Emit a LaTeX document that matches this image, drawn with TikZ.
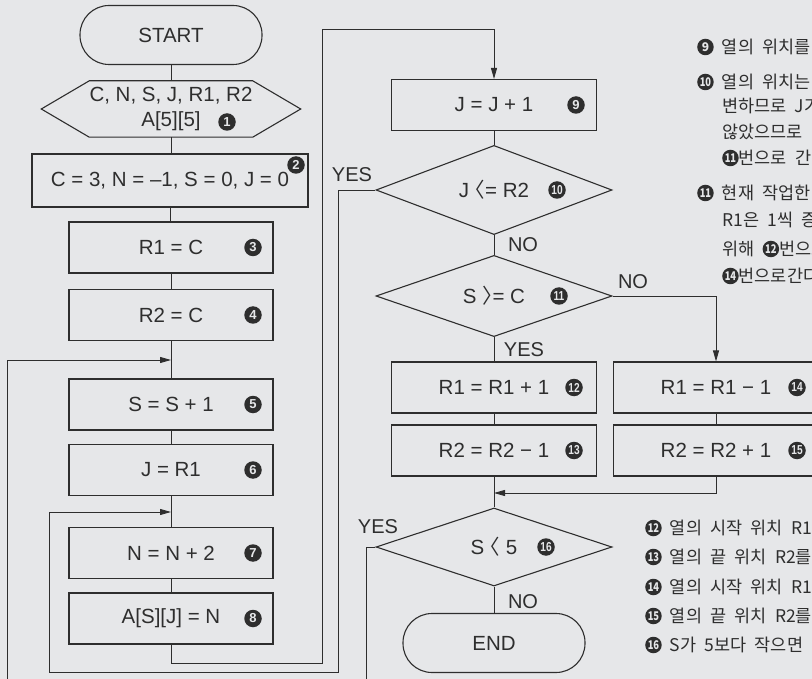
\documentclass[tikz,border=0pt]{standalone}
\usepackage{fontspec}
\usepackage{graphicx}
\setmainfont{Liberation Sans}
\newfontfamily\krfont{Noto Sans CJK KR}[WordSpace=2.1]
\newfontfamily\halffont{Noto Sans CJK KR}[RawFeature=+halt]
\usetikzlibrary{shapes.geometric,arrows.meta}
\definecolor{paper}{HTML}{E6E7E9}
\definecolor{ink}{HTML}{2E2E2E}
\newcommand{\tw}[1]{\scalebox{.78}[1]{#1}}
\newcommand{\cnum}[1]{\tikz[x=1cm,y=1cm,baseline={([yshift=-0.36em]c.center)}]\node[numsm] (c) {#1};}
\newcommand{\lang}{{\halffont 〈}}
\newcommand{\rang}{{\halffont 〉}}

\begin{document}
\begin{tikzpicture}[x=1pt,y=-1pt,
  every node/.style={text=ink},
  box/.style={draw=ink, line width=1.1pt, minimum width=204pt, minimum height=51pt, inner sep=0pt, font=\fontsize{20.5}{24}\selectfont},
  term/.style={draw=ink, line width=1.1pt, rounded corners=29pt, minimum width=182pt, minimum height=59pt, font=\fontsize{20.5}{24}\selectfont},
  dia/.style={diamond, draw=ink, line width=1.1pt, minimum width=236pt, minimum height=78pt, inner sep=0pt, font=\fontsize{20.5}{24}\selectfont},
  num/.style={circle, fill=ink, text=paper, inner sep=0pt, minimum size=17.5pt, font=\bfseries\fontsize{13}{13}\selectfont},
  numsm/.style={circle, fill=ink, text=paper, inner sep=0pt, minimum size=16.5pt, font=\bfseries\fontsize{12}{12}\selectfont},
  lbl/.style={font=\fontsize{20}{20}\selectfont, inner sep=0pt},
  note/.style={anchor=west, inner sep=0pt, font=\krfont\fontsize{17.5}{20}\selectfont},
  line/.style={draw=ink, line width=0.9pt},
  arr/.style={line, -{Triangle[length=11pt,width=6pt]}}
]
\useasboundingbox (0,0) rectangle (812,679);
\clip (0,0) rectangle (812,679);
\fill[paper] (0,0) rectangle (812,679);

% Left column
\node[term] (start) at (171,35) {START};
\node[minimum width=163pt, minimum height=56pt, inner sep=0pt, align=center, font=\fontsize{20.5}{25}\selectfont] (in1) at (171,109) {C, N, S, J, R1, R2\\A[5][5]};
\draw[draw=ink, line width=1.1pt] ([xshift=-48pt]in1.west) -- (in1.north west) -- (in1.north east)
  -- ([xshift=48pt]in1.east) -- (in1.south east) -- (in1.south west) -- cycle;
\node[box, minimum width=276pt, minimum height=53pt] (b2) at (170,180.5) {C = 3, N = –1, S = 0, J = 0};
\node[box] (b3) at (171,247.5) {R1 = C};
\node[box] (b4) at (171,315) {R2 = C};
\node[box] (b5) at (171,404.5) {S = S + 1};
\node[box] (b6) at (171,470) {J = R1};
\node[box] (b7) at (171,553) {N = N + 2};
\node[box] (b8) at (171,618.5) {A[S][J] = N};

% Right column
\node[box, minimum width=205pt] (b9) at (494,105) {J = J + 1};
\node[dia] (d10) at (494,190) {J \lang= R2};
\node[dia] (d11) at (494,296) {S \rang= C};
\node[box, minimum width=205pt] (b12) at (494,387.5) {R1 = R1 + 1};
\node[box, minimum width=205pt] (b13) at (494,450.5) {R2 = R2 − 1};
\node[box, minimum width=205pt] (b14) at (716,387.5) {R1 = R1 − 1};
\node[box, minimum width=205pt] (b15) at (716,450.5) {R2 = R2 + 1};
\node[dia] (d16) at (494,547) {S \lang\ 5};
\node[term] (end) at (494,643) {END};

% Step numbers
\foreach \i/\g/\x/\y in {1/1/227/122, 2/2/296/165, 3/3/253/247.5, 4/4/253/315,
    5/5/253/404.5, 6/6/253/470, 7/7/253/553, 8/8/253/618.5, 9/9/576/105,
    10/{\tw{10}}/557/190, 11/{\tw{11}}/559/296, 12/{\tw{12}}/574/387.5, 13/{\tw{13}}/574/450.5,
    14/{\tw{14}}/797/387.5, 15/{\tw{15}}/797/450.5, 16/{\tw{16}}/546/547}
  \node[num] (n\i) at (\x,\y) {\g};

% Branch labels
\node[lbl] (yes10) at (352,175) {YES};
\node[lbl] (no10)  at (523,245) {NO};
\node[lbl] (no11)  at (633,282) {NO};
\node[lbl] (yes11) at (524,350) {YES};
\node[lbl] (yes16) at (378,527) {YES};
\node[lbl] (no16)  at (523,602) {NO};

% Join points
\coordinate (j1) at (171,360);
\coordinate (j2) at (171,512);
\coordinate (j3) at (494,493);

% Straight connectors
\foreach \a/\b in {start/in1, in1/b2, b2/b3, b3/b4, b4/b5, b5/b6, b6/b7, b7/b8,
    b9/d10, d10/d11, d11/b12, b12/b13, b13/d16, b14/b15, d16/end}
  \draw[line] (\a.south) -- (\a.south |- \b.north);

% Loops and branches
\draw[arr] (b8.south) -- ++(0,19) -| (322,29) -| (b9.north);
\draw[arr] (d10.west) -| (338,672) -| (49,512) -- (j2);
\draw[arr] (d16.west) -| (366,695) -| (7,360) -- (j1);
\draw[arr] (d11.east) -| (b14.north);
\draw[arr] (b15.south) |- (j3);

% Notes
\foreach \y/\t in {47/{\cnum{9} 열의 위치를}, 82/{\cnum{\tw{10}} 열의 위치는}, 193/{\cnum{\tw{11}} 현재 작업한}}
  \node[note] (h\y) at (697,\y) {\t};
\foreach \y/\t in {106/{변하므로 J가}, 132/{않았으므로}, 158/{\cnum{\tw{11}}번으로 간다},
    220/{R1은 1씩 증}, 249/{위해 \cnum{\tw{12}}번으로}, 276/{\cnum{\tw{14}}번으로간다}}
  \node[note] (c\y) at (722,\y) {\t};
\foreach \y/\t in {528/{\cnum{\tw{12}} 열의 시작 위치 R1을}, 557/{\cnum{\tw{13}} 열의 끝 위치 R2를},
    587/{\cnum{\tw{14}} 열의 시작 위치 R1을}, 616/{\cnum{\tw{15}} 열의 끝 위치 R2를},
    645/{\cnum{\tw{16}} S가 5보다 작으면}}
  \node[note] (m\y) at (645,\y) {\t};
\end{tikzpicture}
\end{document}
